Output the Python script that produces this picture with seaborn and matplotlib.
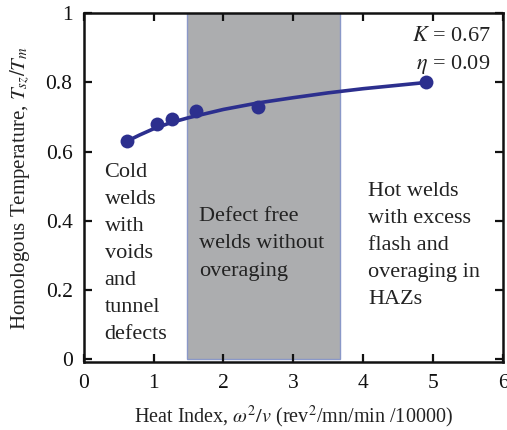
import matplotlib
matplotlib.use("Agg")
import matplotlib.pyplot as plt
import matplotlib.ticker as mticker
import seaborn as sns
import pandas as pd

# measured points
heat_index = [0.62, 1.05, 1.27, 1.61, 2.50, 4.90]
homologous_temp = [0.63, 0.68, 0.695, 0.717, 0.728, 0.80]

# fitted curve
curve_x = [0.62, 0.8, 1.0, 1.25, 1.5, 2.0, 2.5, 3.0, 3.5, 4.0, 4.5, 4.9]
curve_y = [0.630, 0.648, 0.666, 0.684, 0.698, 0.722, 0.741, 0.756, 0.770, 0.782, 0.792, 0.800]

# defect-free window
window = [1.48, 3.67]

region_texts = ["Cold\nwelds\nwith\nvoids\nand\ntunnel\ndefects",
                "Defect free\nwelds without\noveraging",
                "Hot welds\nwith excess\nflash and\noveraging in\nHAZs"]
region_x = [0.30, 1.65, 4.07]
region_y = [0.305, 0.333, 0.328]

x_ticks = [0, 1, 2, 3, 4, 5, 6]
y_ticks = [0, 0.2, 0.4, 0.6, 0.8, 1.0]

sns.set_style("ticks")
plt.rcParams['font.family'] = ['Liberation Serif', 'DejaVu Serif']
plt.rcParams['mathtext.fontset'] = 'stix'

fig = plt.figure(figsize=(5.07, 4.30), dpi=100)
ax = fig.add_axes([0.165, 0.157, 0.827, 0.812])

ax.axvspan(window[0], window[1], ymin=0.01, ymax=1.0, facecolor='#acadaf',
           edgecolor='#8a98c8', linewidth=1.0, zorder=0)

navy = '#2c2f8e'
df_curve = pd.DataFrame({'x': curve_x, 'y': curve_y})
df_pts = pd.DataFrame({'x': heat_index, 'y': homologous_temp})
sns.lineplot(data=df_curve, x='x', y='y', ax=ax, color=navy, linewidth=2.6, zorder=3)
sns.scatterplot(data=df_pts, x='x', y='y', ax=ax, color=navy, s=100, edgecolor=navy,
                linewidth=0, zorder=4)

ax.set_xlim(0, 6)
ax.set_ylim(-0.01, 1.0)
ax.set_xticks(x_ticks)
ax.set_yticks(y_ticks)
ax.xaxis.set_major_formatter(mticker.FormatStrFormatter('%g'))
ax.yaxis.set_major_formatter(mticker.FormatStrFormatter('%g'))
ax.tick_params(direction='in', length=6, width=1.6, top=True, right=True,
               labelsize=15.5, colors='#111111', pad=8)
for s in ax.spines.values():
    s.set_linewidth(1.8)
    s.set_color('#111111')

ax.set_xlabel(r"Heat Index, $\omega^2/v$ (rev$^2$/mn/min /10000)", fontsize=14.5,
              labelpad=8, color='#222222')
ax.set_ylabel(r"Homologous Temperature, $T_{sz}/T_m$", fontsize=15,
              labelpad=10, color='#222222')

for t, x, y in zip(region_texts, region_x, region_y):
    ax.text(x, y, t, ha='left', va='center', fontsize=16, linespacing=1.58,
            color='#222222')

ax.text(5.82, 0.932, r"$K$ = 0.67", ha='right', va='center', fontsize=16, color='#222222')
ax.text(5.82, 0.852, r"$\eta$ = 0.09", ha='right', va='center', fontsize=16, color='#222222')

fig.savefig("out.png", dpi=100)
